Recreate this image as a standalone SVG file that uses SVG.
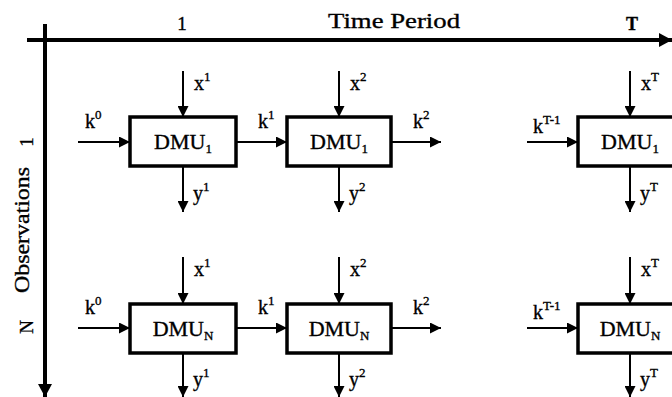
<svg xmlns="http://www.w3.org/2000/svg" width="672" height="397" viewBox="0 0 672 397">
<defs>
<marker id="ah" markerUnits="userSpaceOnUse" markerWidth="12" markerHeight="11" refX="11" refY="5.5" orient="auto">
<path d="M0,0 L11,5.5 L0,11 Z" fill="#000"/>
</marker>
<marker id="axh" markerUnits="userSpaceOnUse" markerWidth="14" markerHeight="14" refX="13" refY="7" orient="auto">
<path d="M0,0 L13,7 L0,14 Z" fill="#000"/>
</marker>
</defs>
<style>
.t{font-family:"Liberation Serif","Times New Roman",serif;fill:#000;stroke:#000;stroke-width:0.35}
.lb{font-size:20px}
.sup{font-size:13px}
.dmu{font-size:22px}
.box{fill:#fff;stroke:#000;stroke-width:3.5}
.c{stroke:#000;stroke-width:2;fill:none;marker-end:url(#ah)}
.ax{stroke:#000;stroke-width:4;fill:none;marker-end:url(#axh)}
</style>
<rect width="672" height="397" fill="#fff"/>

<g id="axes">
<line class="ax" x1="27" y1="40" x2="672" y2="40"/>
<line class="ax" x1="45" y1="24" x2="45" y2="397"/>
<text class="t" x="182" y="30" font-size="19" text-anchor="middle">1</text>
<text class="t" x="328" y="28" font-size="22" textLength="132" lengthAdjust="spacingAndGlyphs">Time Period</text>
<text class="t" x="632" y="30" font-size="18" font-weight="bold" text-anchor="middle">T</text>
<text class="t" transform="translate(33,142) rotate(-90)" font-size="19" text-anchor="middle">1</text>
<text class="t" transform="translate(33,327) rotate(-90)" font-size="19" text-anchor="middle">N</text>
<text class="t" transform="translate(29,230) rotate(-90)" font-size="22" text-anchor="middle" textLength="126" lengthAdjust="spacingAndGlyphs">Observations</text>
</g>

<g id="connectors">
<!-- row 1 -->
<line class="c" x1="183" y1="71" x2="183" y2="117"/>
<line class="c" x1="183" y1="166" x2="183" y2="212"/>
<line class="c" x1="339" y1="71" x2="339" y2="117"/>
<line class="c" x1="339" y1="166" x2="339" y2="212"/>
<line class="c" x1="630" y1="71" x2="630" y2="117"/>
<line class="c" x1="630" y1="166" x2="630" y2="212"/>
<line class="c" x1="78" y1="142" x2="130" y2="142"/>
<line class="c" x1="236" y1="142" x2="287" y2="142"/>
<line class="c" x1="391" y1="142" x2="441" y2="142"/>
<line class="c" x1="527" y1="142" x2="578" y2="142"/>
<!-- row 2 -->
<line class="c" x1="183" y1="257" x2="183" y2="304"/>
<line class="c" x1="183" y1="353" x2="183" y2="397"/>
<line class="c" x1="339" y1="257" x2="339" y2="304"/>
<line class="c" x1="339" y1="353" x2="339" y2="397"/>
<line class="c" x1="630" y1="257" x2="630" y2="304"/>
<line class="c" x1="630" y1="353" x2="630" y2="397"/>
<line class="c" x1="78" y1="328" x2="130" y2="328"/>
<line class="c" x1="236" y1="328" x2="287" y2="328"/>
<line class="c" x1="391" y1="328" x2="441" y2="328"/>
<line class="c" x1="527" y1="328" x2="578" y2="328"/>
</g>

<g id="labels">
<!-- row 1 -->
<text class="t lb" x="194" y="90">x<tspan class="sup" dy="-9">1</tspan></text>
<text class="t lb" x="350" y="90">x<tspan class="sup" dy="-9">2</tspan></text>
<text class="t lb" x="641" y="90">x<tspan class="sup" dy="-9">T</tspan></text>
<text class="t lb" x="193" y="200">y<tspan class="sup" dy="-9">1</tspan></text>
<text class="t lb" x="349" y="200">y<tspan class="sup" dy="-9">2</tspan></text>
<text class="t lb" x="640" y="200">y<tspan class="sup" dy="-9">T</tspan></text>
<text class="t lb" x="85" y="128">k<tspan class="sup" dy="-9">0</tspan></text>
<text class="t lb" x="258" y="128">k<tspan class="sup" dy="-9">1</tspan></text>
<text class="t lb" x="413" y="128">k<tspan class="sup" dy="-9">2</tspan></text>
<text class="t lb" x="533" y="133">k<tspan class="sup" dy="-9">T-1</tspan></text>
<!-- row 2 -->
<text class="t lb" x="194" y="276">x<tspan class="sup" dy="-9">1</tspan></text>
<text class="t lb" x="350" y="276">x<tspan class="sup" dy="-9">2</tspan></text>
<text class="t lb" x="641" y="276">x<tspan class="sup" dy="-9">T</tspan></text>
<text class="t lb" x="193" y="386">y<tspan class="sup" dy="-9">1</tspan></text>
<text class="t lb" x="349" y="386">y<tspan class="sup" dy="-9">2</tspan></text>
<text class="t lb" x="640" y="386">y<tspan class="sup" dy="-9">T</tspan></text>
<text class="t lb" x="85" y="314">k<tspan class="sup" dy="-9">0</tspan></text>
<text class="t lb" x="258" y="314">k<tspan class="sup" dy="-9">1</tspan></text>
<text class="t lb" x="413" y="314">k<tspan class="sup" dy="-9">2</tspan></text>
<text class="t lb" x="533" y="319">k<tspan class="sup" dy="-9">T-1</tspan></text>
</g>

<g id="dmu1-1"><rect class="box" x="130" y="117" width="106" height="49"/><text class="t dmu" x="183" y="149" text-anchor="middle">DMU<tspan class="sup" dy="4">1</tspan></text></g>
<g id="dmu1-2"><rect class="box" x="287" y="117" width="104" height="49"/><text class="t dmu" x="339" y="149" text-anchor="middle">DMU<tspan class="sup" dy="4">1</tspan></text></g>
<g id="dmu1-T"><rect class="box" x="578" y="117" width="106" height="49"/><text class="t dmu" x="630" y="149" text-anchor="middle">DMU<tspan class="sup" dy="4">1</tspan></text></g>
<g id="dmuN-1"><rect class="box" x="130" y="304" width="106" height="49"/><text class="t dmu" x="183" y="336" text-anchor="middle">DMU<tspan class="sup" dy="4">N</tspan></text></g>
<g id="dmuN-2"><rect class="box" x="287" y="304" width="104" height="49"/><text class="t dmu" x="339" y="336" text-anchor="middle">DMU<tspan class="sup" dy="4">N</tspan></text></g>
<g id="dmuN-T"><rect class="box" x="578" y="304" width="106" height="49"/><text class="t dmu" x="630" y="336" text-anchor="middle">DMU<tspan class="sup" dy="4">N</tspan></text></g>
</svg>
